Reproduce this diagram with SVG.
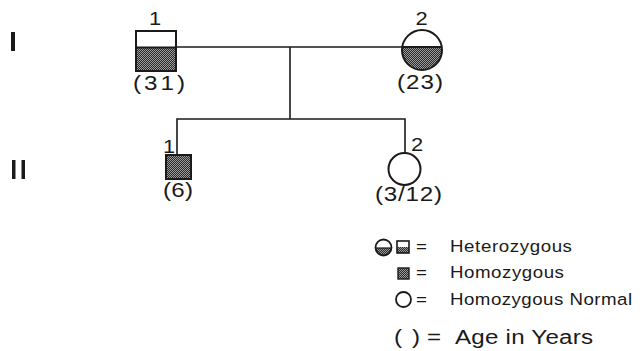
<svg xmlns="http://www.w3.org/2000/svg" width="640" height="351" viewBox="0 0 640 351">
  <defs>
    <!-- fine halftone stipple used for affected areas -->
    <pattern id="stipple" width="2" height="2" patternUnits="userSpaceOnUse">
      <rect width="2" height="2" fill="#2b2b2b"/>
      <rect width="1" height="1" fill="#9a9a9a"/>
      <rect x="1" y="1" width="1" height="1" fill="#9a9a9a"/>
    </pattern>
    <clipPath id="clipI2"><circle cx="422" cy="50" r="20"/></clipPath>
    <clipPath id="clipLegC"><circle cx="383.5" cy="247.5" r="8"/></clipPath>
  </defs>
  <style>
    .sym { fill: none; stroke: #1a1a1a; stroke-width: 2; }
    .line { fill: none; stroke: #1a1a1a; stroke-width: 1.6; }
    .t { font-family: "Liberation Sans", Arial, sans-serif; fill: #1a1a1a; }
    .num { font-size: 19px; text-anchor: middle; }
    .age { font-size: 21px; }
    .leg { font-size: 17px; }
  </style>
  <rect width="640" height="351" fill="#ffffff"/>

  <!-- generation labels -->
  <rect x="11" y="32" width="4" height="19" fill="#1a1a1a"/>
  <rect x="12" y="160" width="3.5" height="19" fill="#1a1a1a"/>
  <rect x="21.5" y="160" width="3.5" height="19" fill="#1a1a1a"/>

  <!-- connectors -->
  <g id="connectors">
    <line class="line" x1="176" y1="47" x2="402" y2="47"/>
    <line class="line" x1="290" y1="47" x2="290" y2="119"/>
    <polyline class="line" points="177,155 177,119 405,119 405,153"/>
  </g>

  <!-- I-1 heterozygous male -->
  <g id="I-1">
    <rect x="136" y="47.5" width="40" height="23.5" fill="url(#stipple)"/>
    <rect class="sym" x="136" y="31" width="40" height="40"/>
    <line class="sym" x1="136" y1="47.5" x2="176" y2="47.5"/>
    <text class="t num" transform="translate(155 25) scale(1.15 1)">1</text>
    <text class="t age" transform="translate(133 90) scale(1.15 1)" textLength="45.2" lengthAdjust="spacing">(31)</text>
  </g>

  <!-- I-2 heterozygous female -->
  <g id="I-2">
    <rect x="400" y="47" width="44" height="25" fill="url(#stipple)" clip-path="url(#clipI2)"/>
    <circle class="sym" cx="422" cy="50" r="20"/>
    <line class="sym" x1="402.3" y1="47" x2="441.7" y2="47"/>
    <text class="t num" transform="translate(421.5 25) scale(1.15 1)">2</text>
    <text class="t age" transform="translate(397 89) scale(1.15 1)" textLength="40" lengthAdjust="spacing">(23)</text>
  </g>

  <!-- II-1 homozygous male -->
  <g id="II-1">
    <rect x="166" y="155" width="25" height="24" fill="url(#stipple)"/>
    <rect class="sym" x="166" y="155" width="25" height="24"/>
    <text class="t num" transform="translate(169 153) scale(1.15 1)">1</text>
    <text class="t age" transform="translate(163 197) scale(1.15 1)" textLength="26.1" lengthAdjust="spacing">(6)</text>
  </g>

  <!-- II-2 normal female -->
  <g id="II-2">
    <circle class="sym" cx="404.5" cy="169" r="16"/>
    <text class="t num" transform="translate(417 151) scale(1.15 1)">2</text>
    <text class="t age" transform="translate(375 201) scale(1.15 1)" textLength="58.3" lengthAdjust="spacing">(3/12)</text>
  </g>

  <!-- key -->
  <g id="legend">
    <rect x="375" y="248" width="18" height="9" fill="url(#stipple)" clip-path="url(#clipLegC)"/>
    <circle cx="383.5" cy="247.5" r="8" fill="none" stroke="#1a1a1a" stroke-width="1.8"/>
    <line x1="375.6" y1="248" x2="391.4" y2="248" stroke="#1a1a1a" stroke-width="1.2"/>
    <rect x="397" y="247" width="12" height="6" fill="url(#stipple)"/>
    <rect x="397" y="241" width="12" height="12" fill="none" stroke="#1a1a1a" stroke-width="1.6"/>
    <text class="t leg" transform="translate(416 252) scale(1.1 1)">=</text>
    <text class="t leg" transform="translate(450 252) scale(1.1 1)" textLength="110.9" lengthAdjust="spacing">Heterozygous</text>

    <rect x="398" y="268" width="11" height="11" fill="url(#stipple)" stroke="#1a1a1a" stroke-width="1.4"/>
    <text class="t leg" transform="translate(416 278) scale(1.1 1)">=</text>
    <text class="t leg" transform="translate(450 278) scale(1.1 1)" textLength="103.6" lengthAdjust="spacing">Homozygous</text>

    <circle cx="403.5" cy="299.5" r="7.5" fill="none" stroke="#1a1a1a" stroke-width="1.8"/>
    <text class="t leg" transform="translate(416 305) scale(1.1 1)">=</text>
    <text class="t leg" transform="translate(450 305) scale(1.1 1)" textLength="165.5" lengthAdjust="spacing">Homozygous Normal</text>

    <text class="t age" transform="translate(394 344) scale(1.15 1)" textLength="22.6" lengthAdjust="spacing">( )</text>
    <text class="t age" transform="translate(427 344) scale(1.15 1)">=</text>
    <text class="t age" transform="translate(455 344) scale(1.15 1)" textLength="120" lengthAdjust="spacing">Age in Years</text>
  </g>
</svg>
